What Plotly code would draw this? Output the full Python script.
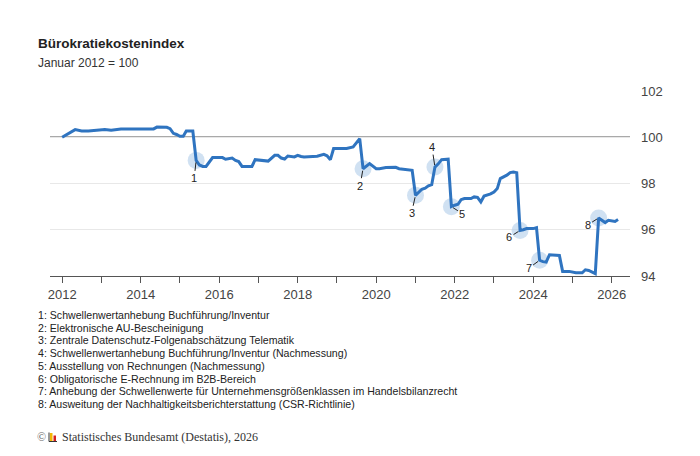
import plotly.graph_objects as go

# Bürokratiekostenindex, Januar 2012 = 100 (values at each vertex)
dates = ["2012-01", "2012-05", "2012-07", "2012-09", "2013-02", "2013-04", "2013-07", "2013-12",
         "2014-05", "2014-06", "2014-09", "2014-10", "2014-11", "2014-12", "2015-01", "2015-02",
         "2015-03", "2015-05", "2015-06", "2015-07", "2015-08", "2015-09", "2015-10", "2015-11",
         "2016-02", "2016-03", "2016-05", "2016-06", "2016-07", "2016-08", "2016-11", "2016-12",
         "2017-04", "2017-05", "2017-06", "2017-07", "2017-08", "2017-09", "2017-10", "2017-12",
         "2018-01", "2018-02", "2018-03", "2018-07", "2018-08", "2018-09", "2018-10", "2018-11",
         "2018-12", "2019-04", "2019-06", "2019-08", "2019-09", "2019-11", "2020-01", "2020-02",
         "2020-04", "2020-06", "2020-07", "2020-08", "2020-11", "2020-12", "2021-01", "2021-02",
         "2021-03", "2021-04", "2021-05", "2021-06", "2021-07", "2021-08", "2021-09", "2021-11",
         "2021-12", "2022-01", "2022-02", "2022-03", "2022-04", "2022-06", "2022-07", "2022-08",
         "2022-09", "2022-10", "2022-11", "2022-12", "2023-01", "2023-02", "2023-03", "2023-04",
         "2023-05", "2023-06", "2023-07", "2023-08", "2023-09", "2023-10", "2023-11", "2024-01",
         "2024-02", "2024-03", "2024-04", "2024-05", "2024-06", "2024-09", "2024-10", "2024-12",
         "2025-02", "2025-04", "2025-05", "2025-06", "2025-07", "2025-08", "2025-09", "2025-10",
         "2025-11", "2025-12", "2026-01", "2026-02", "2026-03"]
values = [100.0, 100.33, 100.27, 100.27, 100.33, 100.3, 100.36, 100.36,
          100.36, 100.44, 100.43, 100.37, 100.17, 100.12, 100.04, 100.04,
          100.27, 100.27, 99.0, 98.8, 98.74, 98.74, 98.95, 99.12,
          99.12, 99.05, 99.1, 99.0, 98.95, 98.74, 98.74, 99.03,
          98.97, 99.1, 99.22, 99.22, 99.1, 99.06, 99.19, 99.15,
          99.22, 99.17, 99.15, 99.18, 99.22, 99.26, 99.2, 99.03,
          99.51, 99.51, 99.58, 99.94, 98.64, 98.86, 98.64, 98.64,
          98.69, 98.71, 98.7, 98.64, 98.6, 98.57, 97.49, 97.65,
          97.75, 97.8, 97.9, 97.95, 98.71, 98.85, 99.03, 99.05,
          97.0, 97.06, 97.1, 97.3, 97.35, 97.35, 97.42, 97.4,
          97.2, 97.46, 97.5, 97.55, 97.63, 97.78, 98.21, 98.28,
          98.36, 98.47, 98.5, 98.47, 95.97, 96.0, 96.05, 96.05,
          96.09, 94.68, 94.62, 94.6, 94.92, 94.89, 94.2, 94.2,
          94.14, 94.14, 94.27, 94.24, 94.17, 94.1, 96.51, 96.41,
          96.31, 96.41, 96.38, 96.36, 96.44]

# marked events (numbers refer to the notes below the chart)
event_nums = ["1", "2", "3", "4", "5", "6", "7", "8"]
event_dates = ["2015-06", "2019-09", "2021-01", "2021-07", "2021-12", "2023-09", "2024-03", "2025-09"]
event_notes = [
    "Schwellenwertanhebung Buchführung/Inventur",
    "Elektronische AU-Bescheinigung",
    "Zentrale Datenschutz-Folgenabschätzung Telematik",
    "Schwellenwertanhebung Buchführung/Inventur (Nachmessung)",
    "Ausstellung von Rechnungen (Nachmessung)",
    "Obligatorische E-Rechnung im B2B-Bereich",
    "Anhebung der Schwellenwerte für Unternehmensgrößenklassen im Handelsbilanzrecht",
    "Ausweitung der Nachhaltigkeitsberichterstattung (CSR-Richtlinie)",
]
# label offsets in pixels (ax, ay)
label_offsets = [(-2, 18), (-3, 17), (-4, 18), (-3, -20), (11, 7), (-11, 7), (-11, 8), (-11, 7)]

lookup = dict(zip(dates, values))
event_values = [lookup[d] for d in event_dates]

W, H = 700, 456
L, R, T, B = 50, 70, 91, 180
FONT = "Liberation Sans, Arial, sans-serif"


def px(x):
    return (x - L) / (W - L - R)


def py(y):
    return (H - B - y) / (H - T - B)


fig = go.Figure()

fig.add_hline(y=100, line=dict(color="#555555", width=1.3), layer="below")

fig.add_trace(go.Scatter(x=event_dates, y=event_values, mode="markers",
                         marker=dict(size=17, color="rgba(170,200,232,0.55)", line=dict(width=0)),
                         hoverinfo="skip", showlegend=False))
fig.add_trace(go.Scatter(x=dates, y=values, mode="lines",
                         line=dict(color="#2f74c0", width=3),
                         showlegend=False, name="Bürokratiekostenindex"))

for num, d, v, (ax, ay) in zip(event_nums, event_dates, event_values, label_offsets):
    fig.add_annotation(x=d, y=v, text=num, showarrow=True, arrowhead=0, arrowwidth=1,
                       arrowcolor="#222222", ax=ax, ay=ay, standoff=2, startstandoff=0,
                       font=dict(family=FONT, size=11, color="#222222"))

# title and subtitle
fig.add_annotation(x=px(36), y=py(44), xref="paper", yref="paper", xanchor="left", yanchor="middle",
                   text="<b>Bürokratiekostenindex</b>", showarrow=False,
                   font=dict(family=FONT, size=13.5, color="#222222"))
fig.add_annotation(x=px(36), y=py(63), xref="paper", yref="paper", xanchor="left", yanchor="middle",
                   text="Januar 2012 = 100", showarrow=False,
                   font=dict(family=FONT, size=12, color="#333333"))

# notes
for i, (num, note) in enumerate(zip(event_nums, event_notes)):
    fig.add_annotation(x=px(36), y=py(315 + i * 12.7), xref="paper", yref="paper",
                       xanchor="left", yanchor="middle", text=f"{num}: {note}", showarrow=False,
                       font=dict(family=FONT, size=10.6, color="#222222"))

# source line with small logo
fig.add_annotation(x=px(35), y=py(437), xref="paper", yref="paper", xanchor="left", yanchor="middle",
                   text="©", showarrow=False,
                   font=dict(family="Liberation Serif, serif", size=12, color="#666666"))
fig.add_shape(type="rect", xref="paper", yref="paper", x0=px(50), x1=px(52.5), y0=py(441), y1=py(433),
              fillcolor="#f2b705", line=dict(width=0))
fig.add_shape(type="rect", xref="paper", yref="paper", x0=px(53.5), x1=px(56), y0=py(441), y1=py(435.5),
              fillcolor="#d62020", line=dict(width=0))
fig.add_shape(type="line", xref="paper", yref="paper", x0=px(49), x1=px(57), y0=py(441.5), y1=py(441.5),
              line=dict(color="#333333", width=1))
fig.add_shape(type="line", xref="paper", yref="paper", x0=px(49), x1=px(49), y0=py(441.5), y1=py(432.5),
              line=dict(color="#333333", width=1))
fig.add_annotation(x=px(60), y=py(437), xref="paper", yref="paper", xanchor="left", yanchor="middle",
                   text="Statistisches Bundesamt (Destatis), 2026", showarrow=False,
                   font=dict(family="Liberation Serif, serif", size=12, color="#333333"))

fig.update_layout(
    width=W, height=H,
    margin=dict(l=L, r=R, t=T, b=B),
    plot_bgcolor="white", paper_bgcolor="white",
    font=dict(family=FONT),
    showlegend=False,
    xaxis=dict(
        type="date", range=["2011-09-10", "2026-06-20"],
        tick0="2012-01-01", dtick="M24", tickformat="%Y",
        ticks="outside", ticklen=6, tickcolor="#555555", tickwidth=1,
        minor=dict(dtick="M12", tick0="2012-01-01", ticks="outside", ticklen=6,
                   tickcolor="#555555", tickwidth=1, showgrid=False),
        showgrid=False, showline=True, linecolor="#555555", linewidth=1.3,
        tickfont=dict(family=FONT, size=13, color="#444444"),
        zeroline=False,
    ),
    yaxis=dict(
        side="right", range=[94, 102], tickvals=[94, 96, 98, 100, 102],
        showgrid=True, gridcolor="#e8e8e8", gridwidth=1,
        showline=False, zeroline=False, ticks="", ticklabelstandoff=10,
        tickfont=dict(family=FONT, size=13, color="#444444"),
    ),
)

# the page's default body margin would shift the figure by 8px
fig.write_html("out.html", config={"displayModeBar": False},
               post_script="document.body.style.margin='0';")
